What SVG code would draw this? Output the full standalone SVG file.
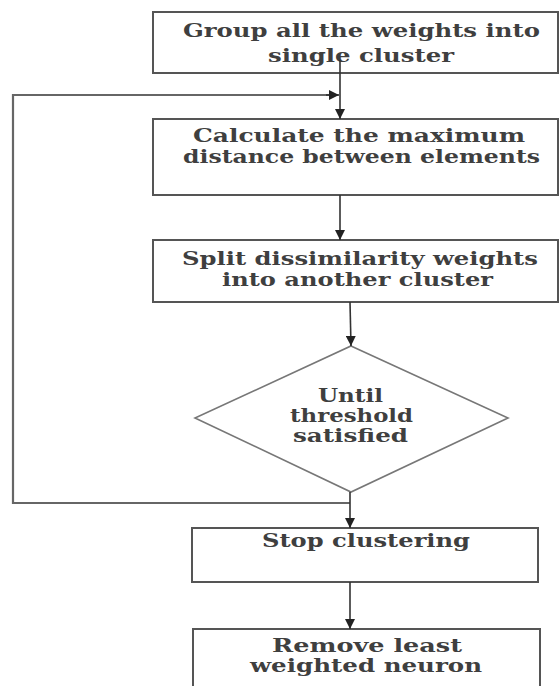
<svg xmlns="http://www.w3.org/2000/svg" width="560" height="686" viewBox="0 0 560 686">
<defs>
<marker id="ah" viewBox="0 0 10 10" refX="10" refY="5" markerWidth="10" markerHeight="10" markerUnits="userSpaceOnUse" orient="auto">
<path d="M0,0 L10,5 L0,10 z" fill="#222"/>
</marker>
<style>
.box{fill:#fff;stroke:#555;stroke-width:2}
.t{font-family:'DejaVu Serif','Liberation Serif',serif;font-weight:bold;font-size:18px;fill:#3f3f3f}
.c{fill:none;stroke:#333;stroke-width:1.6}
.fb{fill:none;stroke:#666;stroke-width:2.2}
</style>
</defs>
<rect width="560" height="686" fill="#fff"/>
<g id="n1">
<rect class="box" x="153" y="12" width="405" height="61"/>
<text class="t" x="183" y="37" textLength="357" lengthAdjust="spacingAndGlyphs">Group all the weights into</text>
<text class="t" x="268" y="62" textLength="186" lengthAdjust="spacingAndGlyphs">single cluster</text>
</g>
<g id="n2">
<rect class="box" x="153" y="119" width="405" height="76"/>
<text class="t" x="193" y="142" textLength="332" lengthAdjust="spacingAndGlyphs">Calculate the maximum</text>
<text class="t" x="183" y="163" textLength="357" lengthAdjust="spacingAndGlyphs">distance between elements</text>
</g>
<g id="n3">
<rect class="box" x="153" y="240" width="405" height="62"/>
<text class="t" x="182" y="265" textLength="356" lengthAdjust="spacingAndGlyphs">Split dissimilarity weights</text>
<text class="t" x="222" y="286" textLength="271" lengthAdjust="spacingAndGlyphs">into another cluster</text>
</g>
<g id="n4">
<polygon points="351,346 508,418 351,492 195,418" fill="#fff" stroke="#777" stroke-width="1.6"/>
<text class="t" x="318" y="402" textLength="65" lengthAdjust="spacingAndGlyphs">Until</text>
<text class="t" x="290" y="422" textLength="123" lengthAdjust="spacingAndGlyphs">threshold</text>
<text class="t" x="293" y="442" textLength="115" lengthAdjust="spacingAndGlyphs">satisfied</text>
</g>
<g id="n5">
<rect class="box" x="192" y="528" width="346" height="54"/>
<text class="t" x="262" y="547" textLength="208" lengthAdjust="spacingAndGlyphs">Stop clustering</text>
</g>
<g id="n6">
<rect class="box" x="193" y="629" width="347" height="70"/>
<text class="t" x="272" y="652" textLength="190" lengthAdjust="spacingAndGlyphs">Remove least</text>
<text class="t" x="250" y="672" textLength="232" lengthAdjust="spacingAndGlyphs">weighted neuron</text>
</g>
<g id="connectors">
<line class="c" x1="340" y1="60" x2="340" y2="119" marker-end="url(#ah)"/>
<polyline class="fb" points="350,503 13,503 13,95 330,95"/>
<line class="c" x1="326" y1="95" x2="339" y2="95" marker-end="url(#ah)"/>
<line class="c" x1="340" y1="195" x2="340" y2="240" marker-end="url(#ah)"/>
<line class="c" x1="350" y1="302" x2="351" y2="346" marker-end="url(#ah)"/>
<line class="c" x1="350" y1="492" x2="350" y2="528" marker-end="url(#ah)"/>
<line class="c" x1="350" y1="582" x2="350" y2="629" marker-end="url(#ah)"/>
</g>
</svg>
